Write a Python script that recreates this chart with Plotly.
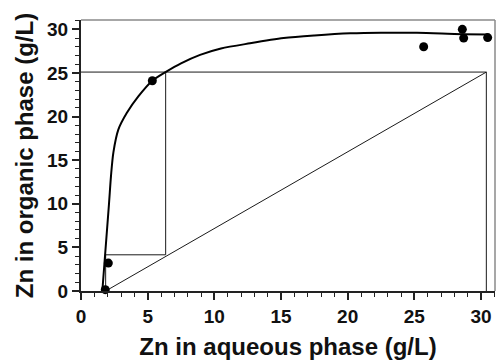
import plotly.graph_objects as go

# Experimental points
pts_x = [1.82, 2.05, 5.35, 25.7, 28.6, 28.7, 30.5]
pts_y = [0.15, 3.2, 24.1, 28.0, 30.0, 29.0, 29.05]

# Isotherm curve
curve_x = [1.6, 2.1, 2.25, 2.43, 2.8, 3.43, 4.3, 5.35, 6.4, 7.5, 8.93, 10.5, 12.68, 15.2, 17.5, 20.2, 22.5, 25.2, 27.5, 28.6, 30.5]
curve_y = [0.0, 10.0, 13.2, 15.9, 18.5, 20.4, 22.3, 24.1, 25.15, 26.1, 27.07, 27.8, 28.4, 29.0, 29.3, 29.55, 29.62, 29.6, 29.5, 29.45, 29.4]

# Operating line and construction lines
op_x = [1.85, 30.4]
op_y = [0.0, 25.1]
frame_x = [0.0, 30.4, 30.4]
frame_y = [25.1, 25.1, 0.0]
step_x = [6.35, 6.35, 1.85, 1.85]
step_y = [25.1, 4.15, 4.15, 0.0]

xticks = [0, 5, 10, 15, 20, 25, 30]
yticks = [0, 5, 10, 15, 20, 25, 30]

FONT = "Liberation Sans, Arial, sans-serif"
thin = dict(color="#1a1a1a", width=1)

fig = go.Figure()
fig.add_trace(go.Scatter(x=frame_x, y=frame_y, mode="lines", line=thin, hoverinfo="skip"))
fig.add_trace(go.Scatter(x=op_x, y=op_y, mode="lines", line=thin, hoverinfo="skip"))
fig.add_trace(go.Scatter(x=step_x, y=step_y, mode="lines", line=thin, hoverinfo="skip"))
fig.add_trace(go.Scatter(x=curve_x, y=curve_y, mode="lines", line=dict(color="black", width=2, shape="spline", smoothing=0.8), hoverinfo="skip"))
fig.add_trace(go.Scatter(x=pts_x, y=pts_y, mode="markers", marker=dict(color="black", size=9), cliponaxis=False))

axis_common = dict(
    showgrid=False, zeroline=False, showline=True, linecolor="#222222", linewidth=2,
    ticks="outside", ticklen=7, tickwidth=1.5, tickcolor="#222222",
    tickfont=dict(family=FONT, size=19, color="#111111", weight="bold"),
    minor=dict(ticks="outside", ticklen=4, tickwidth=1, tickcolor="#222222", dtick=1),
)

fig.update_layout(
    width=497, height=361,
    margin=dict(l=81, r=2, t=20, b=70),
    paper_bgcolor="white", plot_bgcolor="white",
    showlegend=False,
    xaxis=dict(range=[0, 31.05], tickvals=xticks, ticktext=[f"<b>{v}</b>" for v in xticks], **axis_common,
               title=dict(text="<b>Zn in aqueous phase (g/L)</b>", standoff=12,
                          font=dict(family=FONT, size=24, color="#111111"))),
    yaxis=dict(range=[0, 31.07], tickvals=yticks, ticktext=[f"<b>{v}</b>" for v in yticks], **axis_common,
               title=dict(text="<b>Zn in organic phase (g/L)</b>", standoff=7,
                          font=dict(family=FONT, size=24, color="#111111"))),
    shapes=[
        dict(type="line", xref="paper", yref="paper", x0=0, x1=1, y0=1, y1=1, line=dict(color="#8a8a8a", width=1.5)),
        dict(type="line", xref="paper", yref="paper", x0=1, x1=1, y0=0, y1=1, line=dict(color="#8a8a8a", width=1.5)),
    ],
)

fig.write_html("out.html")
